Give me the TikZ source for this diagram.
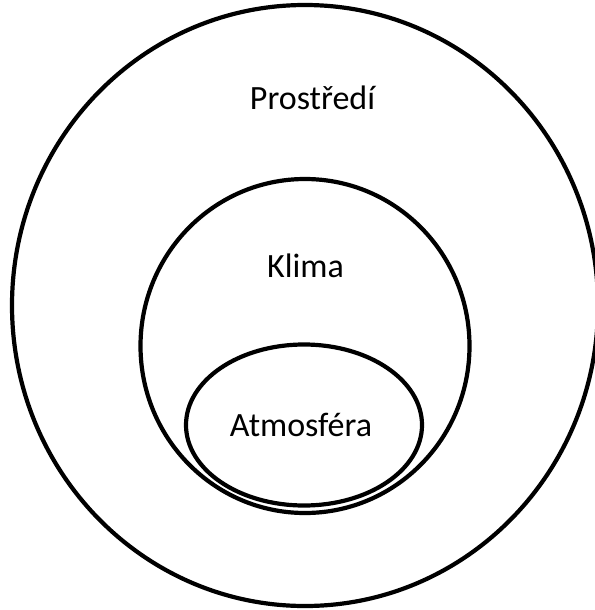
\documentclass[tikz,border=0pt]{standalone}
\usepackage{fontspec}
\setmainfont{Carlito}
\usetikzlibrary{positioning}

\begin{document}
\begin{tikzpicture}[x=1pt,y=-1pt,line width=4.2pt]

\useasboundingbox (0,0) rectangle (594,610);

\coordinate (O1) at (305,305.5);
\coordinate (O2) at (305,346);
\coordinate (O3) at (304,425);

% the three sets, one inside the other
\draw (O1) ellipse [x radius=293,y radius=300.5];
\draw (O2) ellipse [x radius=164.5,y radius=167];
\draw (O3) ellipse [x radius=118,y radius=80.5];

% labels
\node[anchor=base,inner sep=0pt,font=\fontsize{34}{40}\selectfont] (prostredi) at (312.5,109) {Prostředí};
\node[anchor=base,inner sep=0pt,font=\fontsize{34}{40}\selectfont] (klima) at (305.5,277) {Klima};
\node[anchor=base,inner sep=0pt,font=\fontsize{34}{40}\selectfont] (atmosfera) at (301,436) {Atmosféra};

\end{tikzpicture}
\end{document}
